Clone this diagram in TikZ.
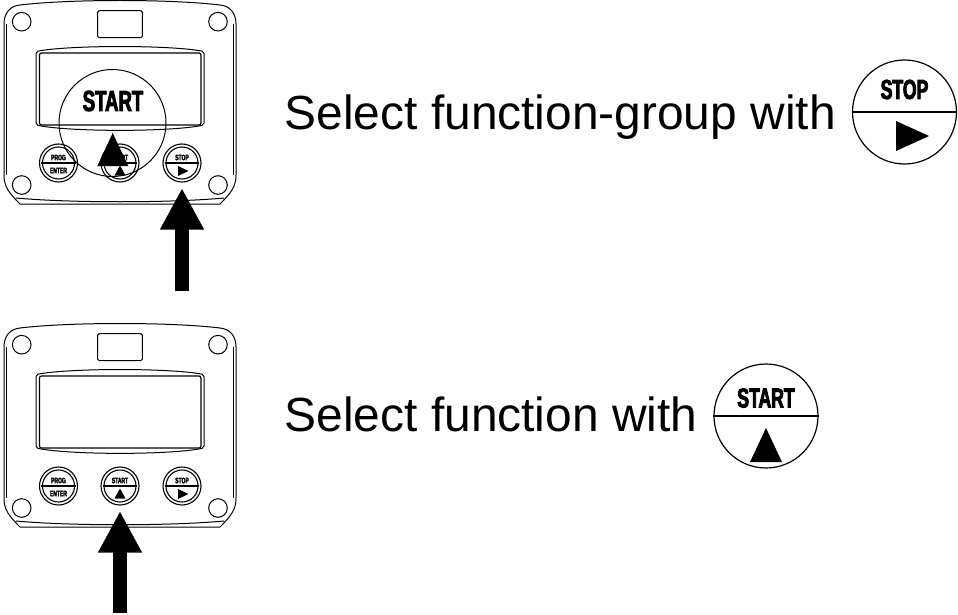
\documentclass[tikz,border=0pt]{standalone}
\usepackage{fontspec}
\usetikzlibrary{arrows.meta}
\setmainfont{Liberation Sans}
\newfontfamily\labelfont[FakeStretch=0.64,FakeBold=3]{Liberation Sans Bold}
\tikzset{
    bigarrow/.style={line width=14pt, -{Triangle[length=41.5pt,width=41pt]}, shorten >=5.5pt},
    button/.style={circle, draw, line width=1.1pt, minimum size=38pt, inner sep=0pt},
    dial/.style={circle, draw, line width=1.2pt, minimum size=104pt, inner sep=0pt},
    keytext/.style={inner sep=0pt, font=\labelfont\fontsize{7.8}{7.8}\selectfont},
    dialtext/.style={inner sep=0pt, font=\labelfont\fontsize{27.5}{27.5}\selectfont},
    caption/.style={anchor=base west, inner sep=0pt, font=\fontsize{47.9}{48}\selectfont},
    pics/devpanel/.style={code={
        % housing
        \draw[line width=1pt] (20,5) .. controls (70,-1) and (170,-1) .. (220,5)
            .. controls (230,6) and (236,13) .. (236,24) -- (236,175)
            .. controls (236,186) and (232,192) .. (220,204) -- (20,204)
            .. controls (8,192) and (4,186) .. (4,175) -- (4,24)
            .. controls (4,13) and (10,6) .. (20,5) -- cycle;
        \draw[line width=1pt] (16,198) .. controls (70,203) and (170,203) .. (224,198);
        \draw[line width=0.8pt] (6.5,24) -- (6.5,175) (233.5,24) -- (233.5,175);
        % holes
        \foreach \hx/\hy in {21.7/21.7, 218/21.7, 21.7/185, 218/185}
            \draw[line width=1pt] (\hx,\hy) circle (9.3pt);
        % window and display
        \draw[line width=1pt, rounded corners=1.5pt] (97.7,10.7) rectangle (142.3,37.7);
        \draw[line width=1pt, rounded corners=2pt] (36,51.5) .. controls (70,45) and (170,45) .. (204,51.5)
            -- (204,125) .. controls (170,132) and (70,132) .. (36,125) -- cycle;
        \draw[line width=1.2pt, rounded corners=2pt] (39.5,53) rectangle (201,125);
        % keys
        \node[button] (prog) at (58.5,163) {};
        \node[button] (start) at (120,163) {};
        \node[button] (stop) at (182,163) {};
        \foreach \key in {prog,start,stop} {
            \draw[line width=1.1pt] (\key) circle (16pt);
            \draw[line width=1.4pt] ([xshift=2.5pt]\key.west) -- ([xshift=-2.5pt]\key.east);
        }
        \node[keytext] (progtext) at (58.5,157.5) {PROG};
        \node[keytext] (entertext) at (58.5,170.5) {ENTER};
        \node[keytext] (starttext) at (120,157.5) {START};
        \node[keytext] (stoptext) at (182,157.5) {STOP};
        \fill (114.5,175.5) -- (125.5,175.5) -- (120,165.5) -- cycle;
        \fill (178,166) -- (178,176) -- (188.5,171) -- cycle;
    }}
}
\begin{document}
\begin{tikzpicture}[x=1pt,y=-1pt]
    \useasboundingbox (0,0) rectangle (958,615);
    \pic (top) at (0,0) {devpanel};
    \pic (low) at (0,323) {devpanel};

    % upper step
    \draw[line width=1pt] (112.5,123) circle (53.5pt);
    \node[dialtext, font=\labelfont\fontsize{29}{29}\selectfont] (bigstart) at (113,101) {START};
    \fill (112.7,133) -- (97.3,166) -- (128.3,166) -- cycle;
    \coordinate (stoptail) at (182,291);
    \draw[bigarrow] (stoptail) -- (topstop);
    \node[caption] (stepone) at (284.5,129) {Select function-group with};
    \node[dial] (stopdial) at (904.5,112) {};
    \draw[line width=1.2pt] (stopdial.west) -- (stopdial.east);
    \node[dialtext] (stoplabel) at (904.5,89.5) {STOP};
    \fill (896,121) -- (896,151) -- (929,136) -- cycle;

    % lower step
    \coordinate (starttail) at (120,613);
    \draw[bigarrow] (starttail) -- (lowstart);
    \node[caption] (steptwo) at (284.5,431) {Select function with};
    \node[dial] (startdial) at (766,416) {};
    \draw[line width=1.2pt] (startdial.west) -- (startdial.east);
    \node[dialtext] (startlabel) at (766,398) {START};
    \fill (766,428) -- (750,462) -- (782,462) -- cycle;
\end{tikzpicture}
\end{document}
